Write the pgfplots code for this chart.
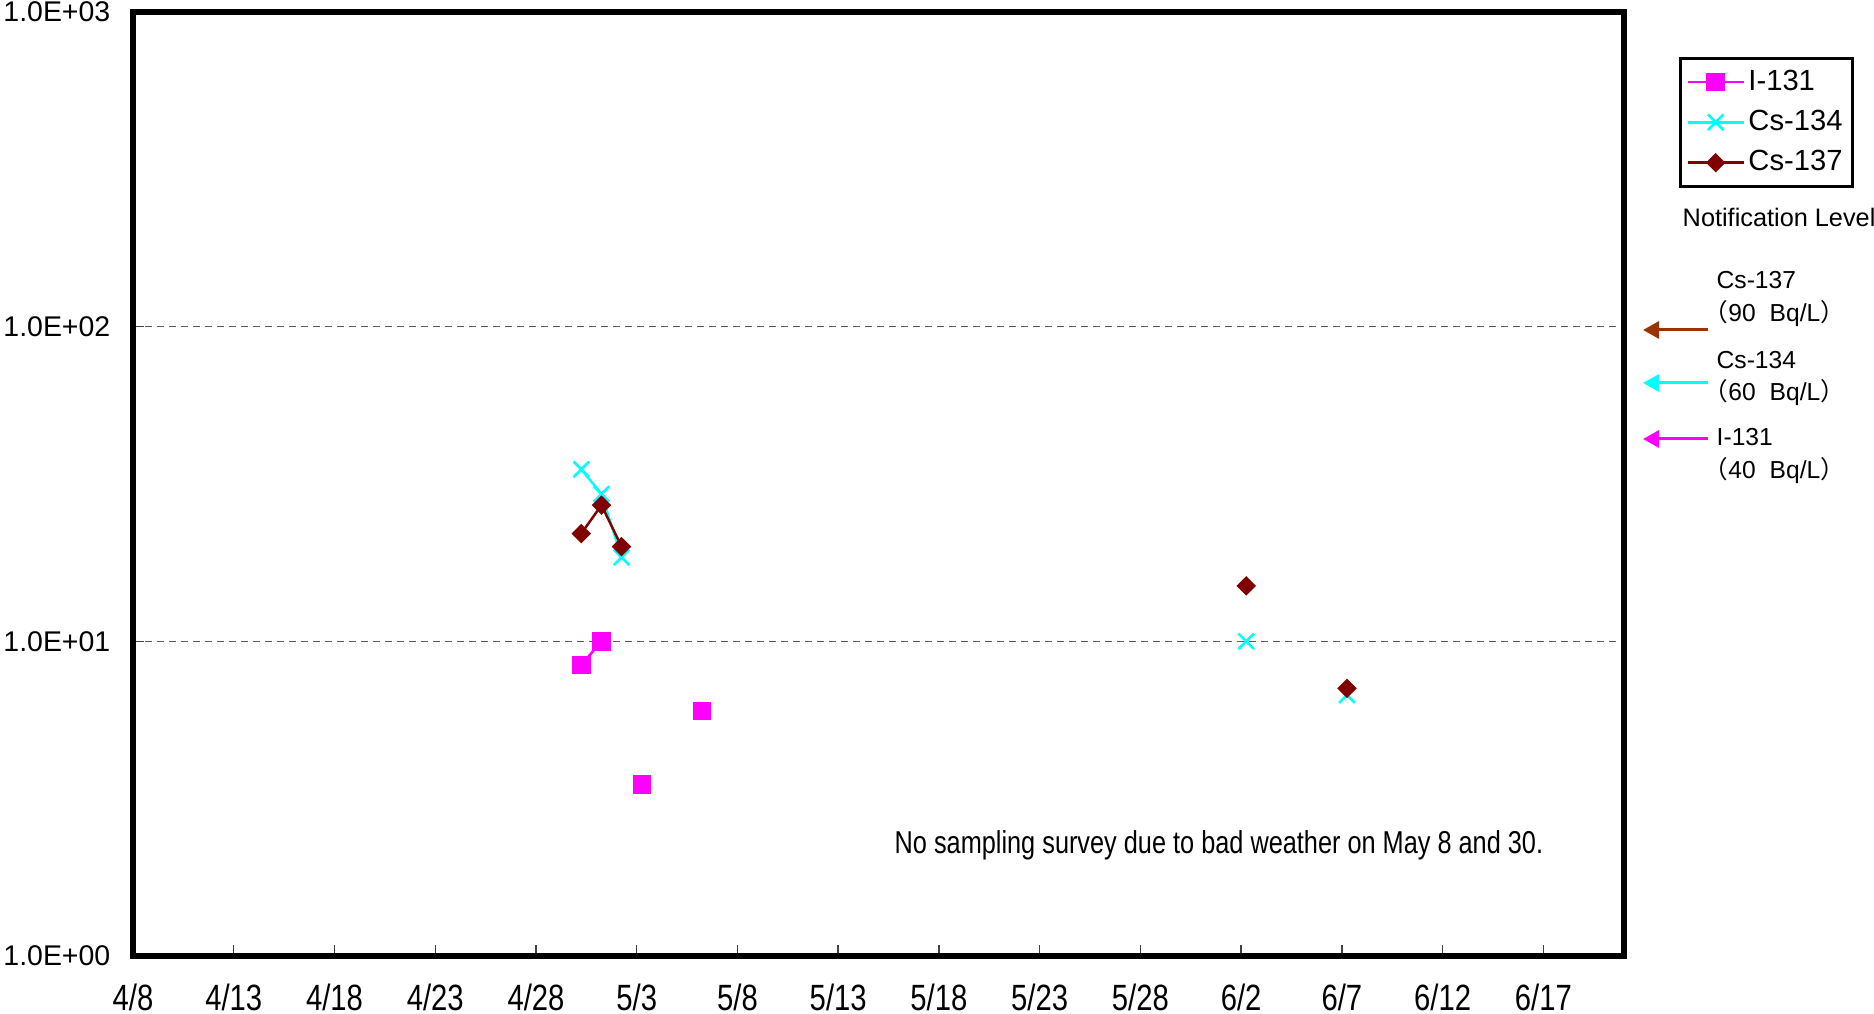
\documentclass[border=0pt]{standalone}
\usepackage{fontspec}
\setmainfont{Liberation Sans}
\newfontfamily\narrow[FakeStretch=0.8]{Liberation Sans}
\newfontfamily\cjk{Noto Sans CJK JP}
\usepackage{pgfplots}
\pgfplotsset{compat=1.18}
\usetikzlibrary{arrows.meta}
\definecolor{iodine}{RGB}{255,0,255}
\definecolor{csfour}{RGB}{0,255,255}
\definecolor{csseven}{RGB}{128,0,0}
\definecolor{arrbrown}{RGB}{153,51,0}
\definecolor{gridgray}{RGB}{90,90,90}

\begin{document}
\begin{tikzpicture}
\begin{axis}[
  at={(0,0)}, anchor=south west,
  scale only axis, width=149.1mm, height=94.4mm,
  ymode=log, xmin=0, xmax=74, ymin=1, ymax=1000,
  axis line style={line width=1.6pt},
  xtick={0,5,...,70},
  xticklabels={4/8,4/13,4/18,4/23,4/28,5/3,5/8,5/13,5/18,5/23,5/28,6/2,6/7,6/12,6/17},
  ytick={1,10,100,1000},
  yticklabels={1.0E+00,1.0E+01,1.0E+02,1.0E+03},
  yminorticks=false, xminorticks=false,
  tick align=inside, xtick pos=left, ytick pos=left,
  major tick length=1.1mm,
  tick style={line width=0.4pt, black!75},
  xticklabel style={font=\narrow\fontsize{10.4}{12}\selectfont, inner sep=0pt, yshift=-2.7mm},
  yticklabel style={font=\fontsize{8.1}{10}\selectfont, inner sep=0pt, xshift=-2.2mm},
  ymajorgrids,
  grid style={line width=0.35pt, gridgray, dash pattern=on 0.7mm off 0.5mm},
  unbounded coords=jump,
  clip=false,
  legend style={at={(1,1)}, anchor=north west, xshift=5.5mm, yshift=-4.5mm,
    draw=black, line width=0.85pt, font=\fontsize{8.3}{10}\selectfont,
    inner xsep=0.6mm, inner ysep=1.8pt, row sep=1.8pt,
    nodes={inner sep=1pt, text height=6.2pt, text depth=1.5pt}},
  legend cell align=left,
  legend image code/.code={\draw[mark repeat=2, mark phase=2]
    plot coordinates {(0mm,0mm) (2.8mm,0mm) (5.6mm,0mm)};},
]
% I-131
\addplot[iodine, line width=0.7pt, mark=square*, mark size=0.8mm]
  coordinates {(22.25,8.41) (23.25,10.0) (24.25,nan) (25.25,3.51) (26.25,nan) (28.25,6.01)};
\addlegendentry{I-131}
% Cs-134
\addplot[csfour, line width=0.7pt, mark=x, mark size=1.1mm, mark options={line width=0.75pt}]
  coordinates {(22.25,35.2) (23.25,29.4) (24.25,18.5) (40,nan) (55.25,10.0) (58,nan) (60.25,6.75)};
\addlegendentry{Cs-134}
% Cs-137
\addplot[csseven, line width=0.7pt, mark=diamond*, mark size=0.8mm, mark options={xscale=1.333}]
  coordinates {(22.25,22.0) (23.25,27.1) (24.25,20.0) (40,nan) (55.25,15.0) (58,nan) (60.25,7.09)};
\addlegendentry{Cs-137}
\end{axis}

% notes beside the plot
\node[anchor=west, inner sep=0pt, font=\narrow\fontsize{9}{10}\selectfont]
  at (76.1mm,11.1mm) {No sampling survey due to bad weather on May 8 and 30.};
\node[anchor=west, inner sep=0pt, font=\fontsize{7.2}{8}\selectfont]
  at (154.9mm,73.9mm) {Notification Level};

\begin{scope}[font=\fontsize{7}{8}\selectfont]
  \node[anchor=west, inner sep=0pt] at (158.3mm,67.6mm) {Cs-137};
  \node[anchor=west, inner sep=0pt] at (157.0mm,64.2mm) {{\cjk （}90\hspace{4pt}Bq/L{\cjk ）}};
  \node[anchor=west, inner sep=0pt] at (158.3mm,59.6mm) {Cs-134};
  \node[anchor=west, inner sep=0pt] at (157.0mm,56.3mm) {{\cjk （}60\hspace{4pt}Bq/L{\cjk ）}};
  \node[anchor=west, inner sep=0pt] at (158.3mm,51.9mm) {I-131};
  \node[anchor=west, inner sep=0pt] at (157.0mm,48.5mm) {{\cjk （}40\hspace{4pt}Bq/L{\cjk ）}};
\end{scope}
\draw[arrbrown, line width=0.3mm, -{Triangle[length=1.6mm, width=1.7mm]}] (157.5mm,62.6mm) -- (151.0mm,62.6mm);
\draw[csfour, line width=0.3mm, -{Triangle[length=1.6mm, width=1.7mm]}] (157.5mm,57.3mm) -- (151.0mm,57.3mm);
\draw[iodine, line width=0.3mm, -{Triangle[length=1.6mm, width=1.7mm]}] (157.5mm,51.7mm) -- (151.0mm,51.7mm);

\pgfresetboundingbox
\path[use as bounding box] (-13.3mm,-5.7mm) rectangle (174.1mm,95.6mm);
\end{tikzpicture}
\end{document}
